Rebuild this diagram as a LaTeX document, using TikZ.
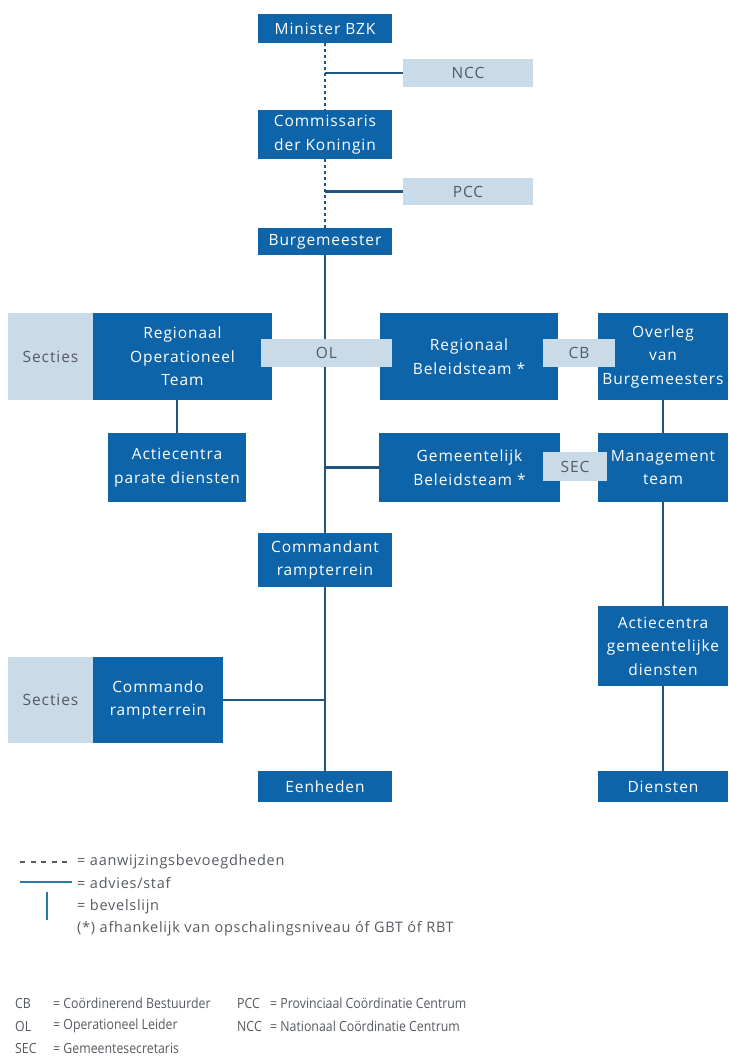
\documentclass[tikz,border=0pt]{standalone}
\usepackage{fontspec}
\setmainfont{Open Sans}[LetterSpace=3]
\newfontfamily\boxfont{Open Sans}[LetterSpace=6]
\newfontfamily\legfont{Open Sans}[LetterSpace=5]
\newfontfamily\legnarrow{Open Sans}[FakeStretch=0.88]
\definecolor{dblue}{HTML}{0E64A8}
\definecolor{lblue}{HTML}{C9DAE8}
\definecolor{lgray}{HTML}{555A60}
\definecolor{linec}{HTML}{1F557F}
\definecolor{legc}{HTML}{2A78A6}
\tikzset{
  dbox/.style={fill=dblue, draw=none, text=white, inner sep=0pt, align=center,
    font=\boxfont\fontsize{15.5}{23.5}\selectfont},
  lbox/.style={fill=lblue, draw=none, text=lgray, inner sep=0pt, align=center,
    font=\boxfont\fontsize{15.5}{23.5}\selectfont},
  conn/.style={draw=linec, line width=2.2pt},
  dconn/.style={draw=linec, line width=2pt, dash pattern=on 3pt off 3pt},
  legtxt/.style={anchor=west, inner sep=0pt, text=lgray, font=\legfont\fontsize{14.5}{16}\selectfont},
  legtxt2/.style={anchor=west, inner sep=0pt, text=lgray, font=\legnarrow\fontsize{14}{16}\selectfont}
}
\newcommand{\bx}[7]{% style, name, x1, y1, x2, y2, text
  \node[#1, minimum width={(#5-#3)*1pt}, minimum height={(#6-#4)*1pt}] (#2) at ({(#3+#5)/2},{(#4+#6)/2}) {#7};}
\begin{document}
\begin{tikzpicture}[x=1pt,y=-1pt]
\useasboundingbox (0,0) rectangle (728,1057);
% boxes
\bx{dbox}{min}{258}{14}{392}{43}{Minister BZK}
\bx{lbox}{ncc}{403}{59}{533}{87}{NCC}
\bx{dbox}{cdk}{258}{110}{392}{159}{Commissaris\\der Koningin}
\bx{lbox}{pcc}{403}{178}{533}{205}{PCC}
\bx{dbox}{burg}{258}{228}{392}{255}{Burgemeester}
\bx{lbox}{sec1}{8}{313}{93}{400}{Secties}
\bx{dbox}{rot}{93}{313}{272}{400}{Regionaal\\Operationeel\\Team}
\bx{dbox}{rbt}{380}{313}{558}{400}{Regionaal\\Beleidsteam *}
\bx{dbox}{ovb}{598}{313}{728}{400}{Overleg\\van\\Burgemeesters}
\bx{dbox}{apd}{108}{433}{246}{502}{Actiecentra\\parate diensten}
\bx{dbox}{gbt}{379}{433}{560}{502}{Gemeentelijk\\Beleidsteam *}
\bx{dbox}{mt}{598}{433}{728}{502}{Management\\team}
\bx{dbox}{cr}{258}{533}{392}{587}{Commandant\\rampterrein}
\bx{dbox}{agd}{598}{606}{728}{686}{Actiecentra\\gemeentelijke\\diensten}
\bx{lbox}{sec2}{8}{657}{93}{743}{Secties}
\bx{dbox}{cmd}{93}{657}{223}{743}{Commando\\rampterrein}
\bx{dbox}{een}{258}{771}{392}{802}{Eenheden}
\bx{dbox}{dien}{598}{771}{728}{802}{Diensten}
% connectors
\draw[dconn] (min.south) -- (cdk.north);
\draw[dconn] (cdk.south) -- (burg.north);
\draw[conn] (min.south |- ncc.west) -- (ncc.west);
\draw[conn] (cdk.south |- pcc.west) -- (pcc.west);
\draw[conn] (burg.south) -- (cr.north);
\draw[conn] (cr.south) -- (een.north);
\draw[conn] (rot.south -| apd.north) -- (apd.north);
\draw[conn] (burg.south |- gbt.west) -- (gbt.west);
\draw[conn] (cr.south |- cmd.east) -- (cmd.east);
\draw[conn] (ovb.south) -- (mt.north);
\draw[conn] (mt.south) -- (agd.north);
\draw[conn] (agd.south) -- (dien.north);
% overlay light boxes
\bx{lbox}{ol}{261}{339}{392}{367}{OL}
\bx{lbox}{cb}{543}{339}{615}{367}{CB}
\bx{lbox}{sec}{543}{452}{607}{481}{SEC}
% legend
\coordinate (l1a) at (20,862); \coordinate (l1b) at (72,862);
\draw[draw=lgray, line width=1.2pt, dash pattern=on 5pt off 5.5pt] (l1a) -- (l1b);
\node[legtxt] (t1) at (77,862) {= aanwijzingsbevoegdheden};
\coordinate (l2a) at (20,882); \coordinate (l2b) at (72,882);
\draw[draw=legc, line width=2pt] (l2a) -- (l2b);
\node[legtxt] (t2) at (77,883) {= advies/staf};
\coordinate (l3a) at (47,892); \coordinate (l3b) at (47,920);
\draw[draw=legc, line width=2.4pt] (l3a) -- (l3b);
\node[legtxt] (t3) at (77,907) {= bevelslijn};
\node[legtxt] (t4) at (77,929) {(*) afhankelijk van opschalingsniveau óf GBT óf RBT};
\node[legtxt2] (a1) at (15,1003) {CB};
\node[legtxt2] (b1) at (53,1003) {= Coördinerend Bestuurder};
\node[legtxt2] (a2) at (15,1026) {OL};
\node[legtxt2] (b2) at (53,1026) {= Operationeel Leider};
\node[legtxt2] (a3) at (15,1048) {SEC};
\node[legtxt2] (b3) at (53,1048) {= Gemeentesecretaris};
\node[legtxt2] (c1) at (237,1003) {PCC};
\node[legtxt2] (d1) at (270,1003) {= Provinciaal Coördinatie Centrum};
\node[legtxt2] (c2) at (237,1026) {NCC};
\node[legtxt2] (d2) at (270,1026) {= Nationaal Coördinatie Centrum};
\end{tikzpicture}
\end{document}
